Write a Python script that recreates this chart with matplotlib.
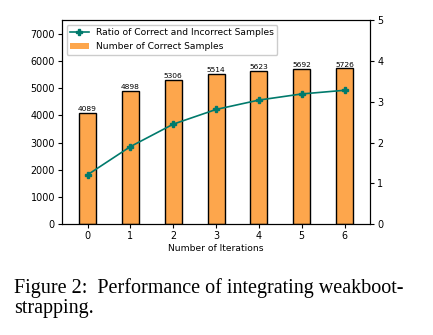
import matplotlib.pyplot as plt
from matplotlib.patches import Patch
import matplotlib.lines as mlines

iterations = [0, 1, 2, 3, 4, 5, 6]
num_correct = [4089, 4898, 5306, 5514, 5623, 5692, 5726]
ratio = [1.21, 1.90, 2.45, 2.81, 3.04, 3.19, 3.28]

orange = '#FDA64C'
teal = '#007A6C'
fs = 6.6

fig = plt.figure(figsize=(4.33, 3.35), dpi=100)
ax = fig.add_axes([0.143, 0.331, 0.712, 0.609])

bars = ax.bar(iterations, num_correct, width=0.4, color=orange, edgecolor='black', linewidth=1.0)
for rect, v in zip(bars, num_correct):
    ax.text(rect.get_x() + rect.get_width() / 2.0, v + 30, str(v), ha='center', va='bottom', fontsize=5.4)

ax.set_ylim(0, 7500)
ax.set_xlim(-0.6, 6.6)
ax.set_xticks(iterations)
ax.set_xlabel('Number of Iterations', fontsize=fs, labelpad=2)
ax.tick_params(labelsize=6.9, length=3, pad=2)

ax2 = ax.twinx()
ax2.plot(iterations, ratio, color=teal, marker='P', markersize=4.5, linewidth=1.2)
ax2.set_ylim(0, 5)
ax2.tick_params(labelsize=6.9, length=3, pad=2)

h1 = mlines.Line2D([], [], color=teal, marker='P', markersize=4.5, linewidth=1.2)
h2 = Patch(facecolor=orange, edgecolor='none')
ax.legend([h1, h2], ['Ratio of Correct and Incorrect Samples', 'Number of Correct Samples'],
          loc='upper left', fontsize=fs, framealpha=1, borderpad=0.4, handlelength=2.0)

# caption, as in the paper
fig.text(0.032, 1 - 293 / 335, 'Figure 2:  Performance of integrating weakboot-',
         family='Liberation Serif', fontsize=14.5, ha='left', va='baseline')
fig.text(0.032, 1 - 313 / 335, 'strapping.',
         family='Liberation Serif', fontsize=14.5, ha='left', va='baseline')

plt.savefig('out.png', dpi=100)
